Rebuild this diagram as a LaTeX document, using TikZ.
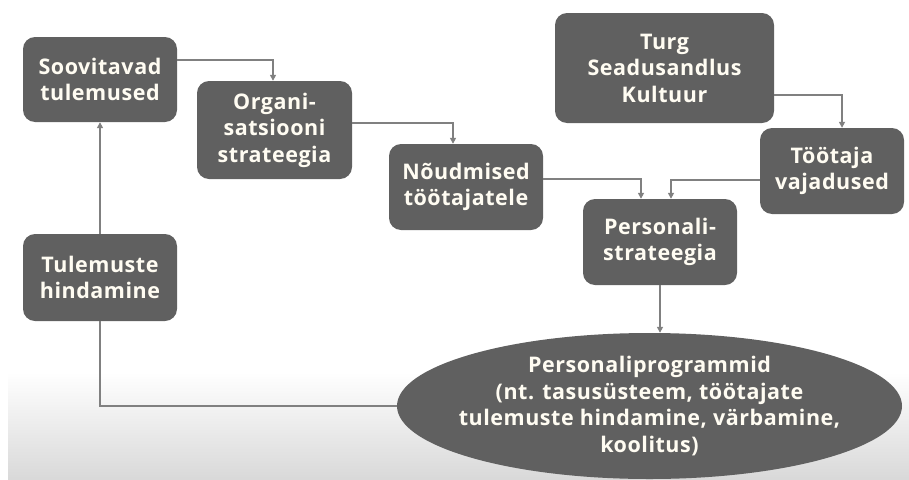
\documentclass[tikz,border=0pt]{standalone}
\usepackage{fontspec}
\setmainfont{Open Sans}[LetterSpace=2.5]
\usetikzlibrary{shapes.geometric,arrows.meta}
\definecolor{boxfill}{HTML}{606060}
\definecolor{linegray}{HTML}{808080}
\definecolor{txt}{HTML}{FFFCF2}
\tikzset{
  boxfont/.style={text=txt, font=\fontsize{21.5}{26.5}\selectfont\bfseries, align=center, inner sep=0pt},
  box/.style={boxfont, draw=none, fill=boxfill, rounded corners=12pt},
  ellbox/.style={ellipse, draw=none, fill=boxfill, inner sep=0pt},
  conn/.style={draw=linegray, line width=1.6pt},
  arr/.style={conn, -{Triangle[length=6pt,width=6pt]}}
}
\begin{document}
\begin{tikzpicture}[x=1pt,y=-1pt]
\useasboundingbox (0,0) rectangle (909,479);
\shade[top color=white, bottom color=black!15, draw=none] (8,372) rectangle (909,479);
\node[box, minimum width=154pt, minimum height=85pt] (soov) at (100,79.5) {Soovitavad\\tulemused};
\node[box, minimum width=155pt, minimum height=98pt] (org) at (274.5,130) {Organi-\\satsiooni\\strateegia};
\node[box, minimum width=154pt, minimum height=86pt] (noud) at (466,187) {Nõudmised\\töötajatele};
\node[box, minimum width=219pt, minimum height=110pt] (turg) at (664.5,68) {Turg\\Seadusandlus\\Kultuur};
\node[box, minimum width=144pt, minimum height=86pt] (toot) at (832,171) {Töötaja\\vajadused};
\node[box, minimum width=154pt, minimum height=86pt] (pers) at (660,242) {Personali-\\strateegia};
\node[box, minimum width=154pt, minimum height=87pt] (tul) at (100,277.5) {Tulemuste\\hindamine};
\node[ellbox, minimum width=505pt, minimum height=146pt] (ell) at (649.5,406) {};
\node[boxfont] (elltxt) at (ell.center) {Personaliprogrammid\\(nt. tasusüsteem, töötajate\\tulemuste hindamine, värbamine,\\koolitus)};
\draw[arr] (soov.east |- 0,60) -| (org.north -| 273,0);
\draw[arr] (org.east |- 0,123) -| (noud.north -| 453,0);
\draw[arr] (noud.east |- 0,179) -| (pers.north -| 641,0);
\draw[arr] (turg.east |- 0,95) -| (toot.north -| 842,0);
\draw[arr] (toot.west |- 0,180) -| (pers.north -| 671,0);
\draw[arr] (pers.south) -- (pers.south |- ell.north);
\draw[arr] (tul.north) -- (soov.south);
\draw[conn] (tul.south) |- (ell.west);
\end{tikzpicture}
\end{document}
